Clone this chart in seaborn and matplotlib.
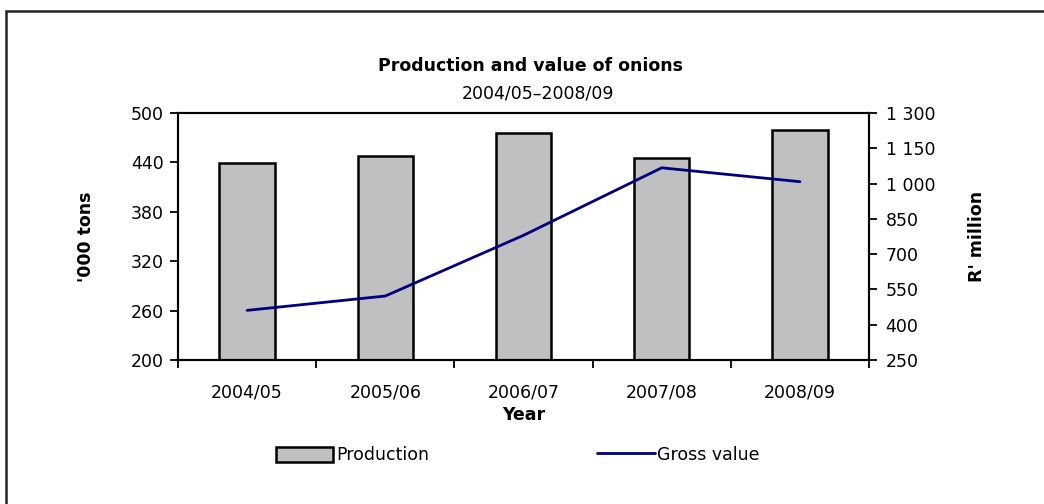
import matplotlib
matplotlib.use("Agg")
import matplotlib.pyplot as plt
import matplotlib.ticker as mticker
from matplotlib.patches import Rectangle
from matplotlib.lines import Line2D
import numpy as np
import pandas as pd
import seaborn as sns

years = ["2004/05", "2005/06", "2006/07", "2007/08", "2008/09"]
production = [439, 448, 476, 445, 479]          # '000 tons
gross_value = [461, 522, 780, 1067, 1008]       # R' million

left_ticks = [200, 260, 320, 380, 440, 500]
right_ticks = [250, 400, 550, 700, 850, 1000, 1150, 1300]

df = pd.DataFrame({"Year": years, "Production": production, "Gross value": gross_value})

sns.set_theme(style="white")
plt.rcParams["font.family"] = ["DejaVu Sans"]
plt.rcParams.update({"text.color": "black", "axes.labelcolor": "black",
                     "xtick.color": "black", "ytick.color": "black"})

FS = 12.5

fig = plt.figure(figsize=(10.44, 5.04), dpi=100)
ax = fig.add_axes([178 / 1044, 1 - 360 / 504, (869 - 178) / 1044, (360 - 113) / 504])

sns.barplot(data=df, x="Year", y="Production", ax=ax, color="#c0c0c0",
            edgecolor="black", linewidth=1.8, width=0.4, saturation=1)

ax2 = ax.twinx()
x_pos = np.arange(len(years))
sns.lineplot(x=x_pos, y=df["Gross value"].to_numpy(), ax=ax2, color="#000080",
             linewidth=2, sort=False)

ax.set_xlim(-0.5, len(years) - 0.5)
ax.set_ylim(200, 500)
ax2.set_ylim(250, 1300)

# axis ticks
ax.set_yticks(left_ticks)
ax.set_yticklabels([str(v) for v in left_ticks])
ax2.set_yticks(right_ticks)
ax2.yaxis.set_major_formatter(mticker.FuncFormatter(lambda v, p: f"{int(v):,}".replace(",", " ")))

ax.set_xticks(np.arange(-0.5, len(years), 1.0))
ax.set_xticklabels([])
ax.set_xticks(x_pos, minor=True)
ax.set_xticklabels(years, minor=True)
ax.tick_params(axis="x", which="major", direction="out", length=6, width=1.3, color="black", bottom=True)
ax.tick_params(axis="x", which="minor", length=0, pad=17, labelsize=FS, colors="black")
ax.tick_params(axis="y", direction="out", length=6, width=1.3, color="black", left=True,
               labelsize=FS, labelcolor="black", pad=4)
ax2.tick_params(axis="y", direction="out", length=6, width=1.3, color="black", right=True,
                labelsize=FS, labelcolor="black", pad=6)

for a in (ax, ax2):
    for s in a.spines.values():
        s.set_visible(True)
        s.set_color("black")
        s.set_linewidth(1.5)
    a.grid(False)

ax.set_xlabel("Year", fontsize=FS, fontweight="bold", labelpad=3)
ax.set_ylabel("'000 tons", fontsize=FS, fontweight="bold", labelpad=26)
ax2.set_ylabel("R' million", fontsize=FS, fontweight="bold", labelpad=24)

fig.text(530 / 1044, 1 - 66 / 504, "Production and value of onions", ha="center", va="center",
         fontsize=FS, fontweight="bold")
fig.text(538 / 1044, 1 - 93 / 504, "2004/05\u20132008/09", ha="center", va="center", fontsize=FS)

handles = [Rectangle((0, 0), 1, 1, facecolor="#c0c0c0", edgecolor="black", linewidth=1.8),
           Line2D([0], [0], color="#000080", linewidth=2)]
fig.legend(handles, ["Production", "Gross value"], loc="center", ncol=2,
           bbox_to_anchor=(518 / 1044, 1 - 455 / 504), frameon=False, fontsize=FS,
           handlelength=3.3, handleheight=0.95, handletextpad=0.15, columnspacing=9.7)

# outer chart frame
fig.patches.append(Rectangle((6 / 1044, -0.05), 1.1, 1 - 11 / 504 + 0.05,
                             transform=fig.transFigure, fill=False,
                             edgecolor="#222222", linewidth=1.8))

fig.savefig("out.png", dpi=100)
